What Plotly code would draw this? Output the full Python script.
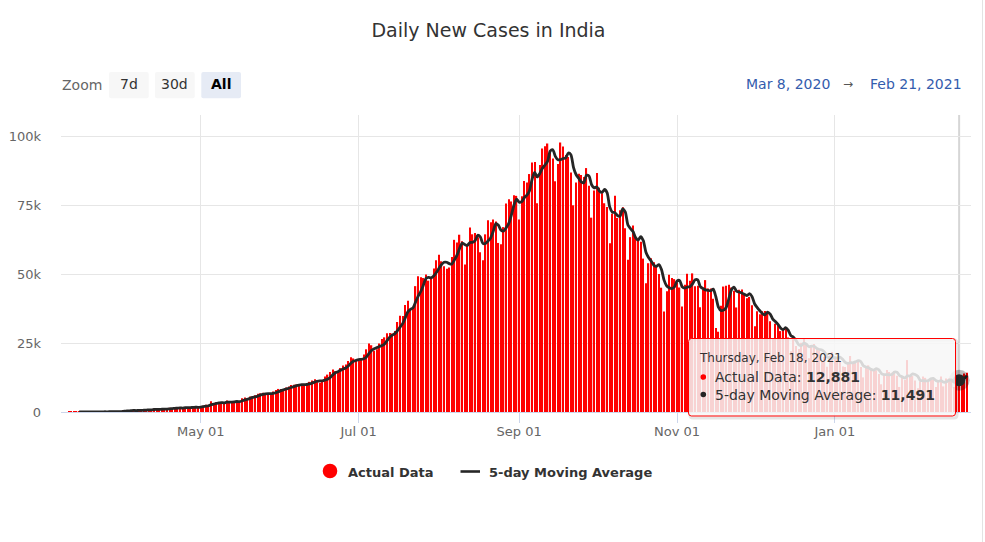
import pandas as pd
import plotly.graph_objects as go

# ---------------- data (daily new cases, India) ----------------
START_DATE = "2020-03-11"
RANGE_START = "2020-03-08"
RANGE_END = "2021-02-22 14:00"
HOVER_DATE = "2021-02-18"

cases_mar = [6, 11, 11, 20, 11, 16, 23, 14, 38, 50, 86, 66, 103, 37, 121, 70, 160, 100, 87, 146, 227]
cases_apr = [601, 545, 478, 523, 693, 354, 773, 565, 813, 871, 854, 758, 1243, 1031, 886, 1061, 922, 1371,
             1580, 1239, 1537, 1292, 1667, 1408, 1835, 1607, 1561, 1873, 1738, 1801]
cases_may = [1993, 2293, 2644, 2573, 3900, 2958, 3561, 3390, 3320, 3277, 4213, 3604, 3525, 3722, 3967, 3970,
             4987, 5242, 4970, 5611, 5609, 6088, 6654, 6767, 6977, 6535, 6387, 6566, 7466, 7964, 8380]
cases_jun = [8392, 8171, 8909, 9304, 9851, 9887, 9971, 9983, 9987, 9985, 9996, 10956, 11458, 11929, 11502,
             10667, 10974, 12881, 13586, 14516, 15413, 14821, 14933, 15968, 16922, 17296, 18552, 19906, 19459, 18522]
cases_jul = [18653, 19148, 20903, 22771, 24850, 24248, 22252, 22752, 24879, 26506, 27114, 28637, 28701, 28498,
             29429, 32695, 34956, 34884, 38902, 40425, 37148, 37724, 45720, 49310, 48916, 48661, 49931, 47704,
             48513, 52123, 55079]
cases_aug = [57118, 54736, 52972, 52050, 52509, 56282, 62538, 61537, 64399, 62064, 53601, 60963, 66999, 64553,
             65002, 63490, 57981, 55079, 64531, 69652, 68898, 69878, 69239, 61408, 60975, 67151, 75760, 77266,
             76472, 78761, 78512]
cases_sep = [69921, 78357, 83883, 83341, 86432, 90632, 90802, 75809, 89706, 95735, 96551, 97570, 94372, 92071,
             83809, 90123, 97894, 96424, 93337, 92605, 86961, 75083, 83347, 86508, 86052, 85362, 88600, 82170,
             70589, 80472]
cases_oct = [86821, 81484, 79476, 75829, 74442, 61267, 72049, 78524, 70496, 73272, 74383, 66732, 55342, 63509,
             67708, 63371, 62212, 61871, 55722, 46790, 54044, 55839, 54366, 53370, 50129, 45149, 36470, 43893,
             49881, 48648, 48268]
cases_nov = [46963, 45231, 38310, 46253, 50210, 47638, 50356, 45674, 45903, 38073, 44281, 47905, 44879, 44878,
             41100, 30548, 29163, 38617, 45576, 45882, 46232, 45209, 44059, 37975, 44376, 44489, 43082, 41322,
             41810, 38772]
cases_dec = [31118, 36604, 35551, 36595, 36652, 36011, 32981, 26567, 32080, 31521, 29398, 30006, 30254, 27071,
             22065, 26382, 24010, 22890, 25152, 26624, 24337, 19556, 23950, 24712, 23067, 22273, 18732, 20021,
             16432, 20550, 21822]
cases_jan = [20035, 19078, 18177, 16505, 16375, 18088, 20346, 18139, 18222, 18645, 16311, 12584, 15968, 16946,
             15590, 15158, 15144, 13788, 10064, 13823, 15223, 14545, 14256, 14849, 13203, 9102, 12689, 11666,
             18855, 13083, 13052]
cases_feb = [11427, 8635, 11039, 12899, 12408, 11713, 12059, 11831, 9110, 11067, 12923, 9309, 12143, 12194,
             11649, 9121, 11610, 12881, 13193, 13993, 14264]

y_tick_vals = [0, 25000, 50000, 75000, 100000]
y_tick_text = ["0", "25k", "50k", "75k", "100k"]
zoom_buttons = ["7d", "30d", "All"]

daily_cases = (cases_mar + cases_apr + cases_may + cases_jun + cases_jul + cases_aug + cases_sep
               + cases_oct + cases_nov + cases_dec + cases_jan + cases_feb)
dates = pd.date_range(START_DATE, periods=len(daily_cases), freq="D")
series = pd.Series(daily_cases, index=dates)
ma5 = series.rolling(5).mean()          # 5-day moving average, as in the chart

hover_ts = pd.Timestamp(HOVER_DATE)
hover_actual = int(series[hover_ts])
hover_ma = float(ma5[hover_ts])

# ---------------- layout geometry ----------------
W, H = 985, 542
L, R, T, B = 61, 14, 115, 130
PW, PH = W - L - R, H - T - B
FONT = "DejaVu Sans"


def px(x):
    return (x - L) / PW


def py(y):
    return (H - B - y) / PH


def rounded(x0, y0, x1, y1, r):
    rx, ry = r / PW, r / PH
    X0, X1 = px(x0), px(x1)
    Yt, Yb = py(y0), py(y1)
    return (f"M {X0+rx},{Yt} L {X1-rx},{Yt} Q {X1},{Yt} {X1},{Yt-ry} L {X1},{Yb+ry} "
            f"Q {X1},{Yb} {X1-rx},{Yb} L {X0+rx},{Yb} Q {X0},{Yb} {X0},{Yb+ry} L {X0},{Yt-ry} "
            f"Q {X0},{Yt} {X0+rx},{Yt} Z")


fig = go.Figure()
fig.add_trace(go.Bar(x=dates, y=daily_cases, marker=dict(color="#ff0000", line=dict(width=0)),
                     width=0.5 * 86400000, name="Actual Data", hoverinfo="skip"))
fig.add_trace(go.Scatter(x=dates, y=ma5, mode="lines", name="5-day Moving Average",
                         line=dict(color="#262626", width=2.8, shape="spline", smoothing=0.7),
                         hoverinfo="skip"))
fig.add_trace(go.Scatter(x=[hover_ts], y=[hover_ma], mode="markers",
                         marker=dict(size=21, color="rgba(0,0,0,0.25)", line=dict(width=0)),
                         hoverinfo="skip", showlegend=False, cliponaxis=False))
fig.add_trace(go.Scatter(x=[hover_ts], y=[hover_ma], mode="markers",
                         marker=dict(size=12, color="#262626", line=dict(width=0)),
                         hoverinfo="skip", showlegend=False, cliponaxis=False))

shapes = []
# crosshair
shapes.append(dict(type="line", xref="x", yref="paper", x0=hover_ts, x1=hover_ts, y0=0, y1=1,
                   line=dict(color="#d6d6d6", width=2), layer="below"))
# right page border
shapes.append(dict(type="line", xref="paper", yref="paper", x0=px(982.5), x1=px(982.5), y0=py(0), y1=py(H),
                   line=dict(color="#e3e3e3", width=1)))
# zoom buttons
btn_x = [109, 155, 201.3]
for i, lab in enumerate(zoom_buttons):
    fill = "#e6ebf5" if lab == "All" else "#f7f7f7"
    shapes.append(dict(type="path", xref="paper", yref="paper", path=rounded(btn_x[i], 72, btn_x[i] + 39.7, 98.3, 2),
                       fillcolor=fill, line=dict(width=0)))
# tooltip shadow + box
shapes.append(dict(type="path", xref="paper", yref="paper", path=rounded(690, 340, 957, 418, 3),
                   fillcolor="rgba(0,0,0,0)", line=dict(color="rgba(0,0,0,0.10)", width=3), layer="above"))
shapes.append(dict(type="path", xref="paper", yref="paper", path=rounded(688.5, 338.5, 955.5, 416, 3),
                   fillcolor="rgba(247,247,247,0.85)", line=dict(color="#ff0000", width=1), layer="above"))
# tooltip bullets
for cy, col in [(377, "#ff0000"), (394.5, "#262626")]:
    r = 2.8
    shapes.append(dict(type="circle", xref="paper", yref="paper", x0=px(703.3 - r), x1=px(703.3 + r),
                       y0=py(cy + r), y1=py(cy - r), fillcolor=col, line=dict(width=0), layer="above"))
# legend symbols
shapes.append(dict(type="circle", xref="paper", yref="paper", x0=px(330 - 7.3), x1=px(330 + 7.3),
                   y0=py(471 + 7.3), y1=py(471 - 7.3), fillcolor="#ff0000", line=dict(width=0)))
shapes.append(dict(type="line", xref="paper", yref="paper", x0=px(460.5), x1=px(480), y0=py(471.5), y1=py(471.5),
                   line=dict(color="#262626", width=2.6)))

ann = []


def text(x, y, s, size, color, anchor="left", bold=False):
    ann.append(dict(xref="paper", yref="paper", x=px(x), y=py(y), text=f"<b>{s}</b>" if bold else s,
                    showarrow=False, xanchor=anchor, yanchor="middle",
                    font=dict(family=FONT, size=size, color=color), borderpad=0))


text(61, 85, "Zoom", 14, "#666666")
for i, lab in enumerate(zoom_buttons):
    if lab == "All":
        text(btn_x[i] + 19.85, 84, lab, 14, "#000000", "center", bold=True)
    else:
        text(btn_x[i] + 19.85, 84, lab, 14, "#333333", "center")

range_start = pd.Timestamp(RANGE_START)
range_end_label = dates[-1]
text(788, 83.5, f"{range_start:%b} {range_start.day}, {range_start.year}", 14, "#335cad", "center")
text(848, 83.5, "→", 12, "#555555", "center")
text(915.5, 83.5, f"{range_end_label:%b} {range_end_label.day}, {range_end_label.year}", 14, "#335cad", "center")

# legend texts
text(346.5, 472, "Actual Data", 13, "#333333", bold=True)
text(488, 472, "5-day Moving Average", 13, "#333333", bold=True)

# tooltip texts
text(697.5, 358, f"{hover_ts:%A}, {hover_ts:%b} {hover_ts.day}, {hover_ts.year}", 12, "#333333")
ann.append(dict(xref="paper", yref="paper", x=px(714), y=py(377), xanchor="left", yanchor="middle",
                showarrow=False, borderpad=0, font=dict(family=FONT, size=14, color="#333333"),
                text=f"Actual Data: <b>{hover_actual:,}</b>"))
ann.append(dict(xref="paper", yref="paper", x=px(714), y=py(394.5), xanchor="left", yanchor="middle",
                showarrow=False, borderpad=0, font=dict(family=FONT, size=14, color="#333333"),
                text=f"5-day Moving Average: <b>{round(hover_ma):,}</b>"))

fig.update_layout(
    width=W, height=H, margin=dict(l=L, r=R, t=T, b=B, pad=0, autoexpand=False),
    paper_bgcolor="white", plot_bgcolor="white", showlegend=False, hovermode=False,
    font=dict(family=FONT, color="#333333"),
    title=dict(text="Daily New Cases in India", x=488.5 / W, xref="container", xanchor="center",
               y=1 - 30 / H, yref="container", yanchor="middle",
               font=dict(family=FONT, size=19, color="#333333")),
    xaxis=dict(type="date", range=[RANGE_START, RANGE_END], tickformat="%b %d", dtick="M2",
               tick0="2020-01-01", showgrid=True, gridcolor="#e6e6e6", gridwidth=1,
               ticks="outside", ticklen=10, tickcolor="#ccd6eb", tickwidth=1,
               showline=True, linecolor="#ccd6eb", linewidth=1, zeroline=False, automargin=False,
               ticklabelstandoff=-3,
               tickfont=dict(family=FONT, size=13, color="#666666"), fixedrange=True),
    yaxis=dict(range=[0, 107880], tickvals=y_tick_vals, ticktext=y_tick_text, showgrid=True,
               gridcolor="#e6e6e6", gridwidth=1, zeroline=False, showline=False, ticks="",
               automargin=False, ticklabelstandoff=19,
               tickfont=dict(family=FONT, size=13, color="#666666"), fixedrange=True),
    shapes=shapes, annotations=ann,
)

fig.write_html("out.html", include_plotlyjs=True, config={"displayModeBar": False},
               post_script="document.body.style.margin='0';document.body.style.overflow='hidden';")
